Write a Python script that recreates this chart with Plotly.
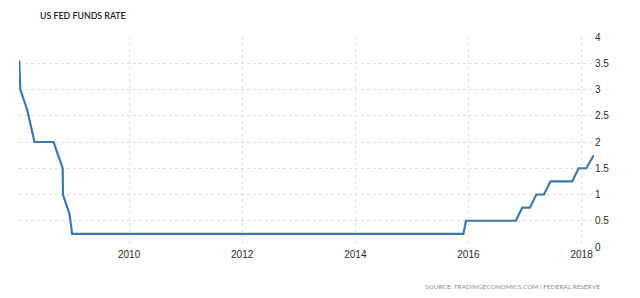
import plotly.graph_objects as go

dates = ["2008-01-22", "2008-01-30", "2008-03-15", "2008-04-30", "2008-06-25",
         "2008-08-31", "2008-10-29", "2008-10-31", "2008-12-12", "2008-12-29",
         "2010-06-30", "2012-06-30", "2014-06-30", "2015-11-30", "2015-12-16",
         "2016-11-02", "2016-12-14", "2017-02-01", "2017-03-15", "2017-05-03",
         "2017-06-14", "2017-11-01", "2017-12-13", "2018-01-31", "2018-03-21"]
rates = [3.55, 3.0, 2.6, 2.0, 2.0,
         2.0, 1.5, 1.0, 0.63, 0.25,
         0.25, 0.25, 0.25, 0.25, 0.5,
         0.5, 0.75, 0.75, 1.0, 1.0,
         1.25, 1.25, 1.5, 1.5, 1.75]

x_ticks = ["2010-01-01", "2012-01-01", "2014-01-01", "2016-01-01", "2018-01-01"]
x_tick_labels = ["2010", "2012", "2014", "2016", "2018"]
y_ticks = [0, 0.5, 1, 1.5, 2, 2.5, 3, 3.5, 4]
y_tick_labels = ["0", "0.5", "1", "1.5", "2", "2.5", "3", "3.5", "4"]

title_text = "US FED FUNDS RATE"
source_text = "SOURCE: TRADINGECONOMICS.COM | FEDERAL RESERVE"

fig = go.Figure()
fig.add_trace(go.Scatter(
    x=dates, y=rates, mode="lines",
    line=dict(color="#3d78ad", width=2.2),
    hoverinfo="skip", showlegend=False,
))

grid = "#e0e0e0"
fig.update_layout(
    width=640, height=298,
    margin=dict(l=19, r=46, t=37, b=51),
    paper_bgcolor="white", plot_bgcolor="white",
    font=dict(family="Liberation Sans, Arial, sans-serif", color="#2a2a2a", size=10),
    xaxis=dict(
        range=["2008-01-21", "2018-03-22"],
        tickvals=x_ticks, ticktext=x_tick_labels,
        showgrid=True, gridcolor=grid, griddash="dot", gridwidth=1,
        zeroline=False, showline=False, ticks="",
        tickfont=dict(size=10, color="#2a2a2a"),
    ),
    yaxis=dict(
        range=[0, 4], side="right",
        tickvals=y_ticks, ticktext=y_tick_labels,
        showgrid=True, gridcolor=grid, griddash="dot", gridwidth=1,
        zeroline=False, showline=False, ticks="",
        tickfont=dict(size=10, color="#2a2a2a"),
    ),
    annotations=[
        dict(text=title_text, xref="paper", yref="paper",
             x=(38 - 19) / 575, y=(247.5 - 16) / 210, xanchor="left", yanchor="middle",
             showarrow=False,
             font=dict(family="Lato, Liberation Sans, sans-serif", size=8.8,
                       weight=600, color="#222222")),
        dict(text=source_text, xref="paper", yref="paper",
             x=(602 - 19) / 575, y=(247.5 - 287) / 210, xanchor="right", yanchor="middle",
             showarrow=False,
             font=dict(family="Lato, Liberation Sans, sans-serif", size=6.5, color="#8a8a8a")),
    ],
)

fig.write_html("out.html")
